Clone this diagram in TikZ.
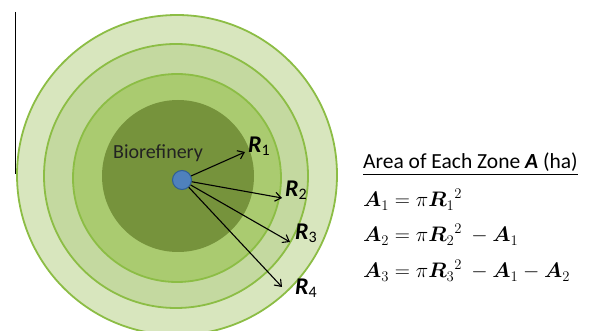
\documentclass[tikz,border=0pt]{standalone}
\usepackage{fix-cm}
\usepackage{amsmath}
\usepackage{bm}
\usepackage{fontspec}
\setmainfont{Carlito}
\definecolor{ringline}{HTML}{8CBD45}
\definecolor{zonefour}{HTML}{D8E6BE}
\definecolor{zonethree}{HTML}{C4D9A0}
\definecolor{zonetwo}{HTML}{AACB70}
\definecolor{zoneone}{HTML}{76933C}
\definecolor{dotblue}{HTML}{4F81BD}
\definecolor{dotedge}{HTML}{2F5E96}
\definecolor{labelgray}{HTML}{222222}
\usetikzlibrary{
  positioning,
  arrows.meta
}
\newcommand{\radlabel}[1]{\textbf{\textit{R}}\raisebox{-0.3ex}{\fontsize{16}{18}\selectfont #1}}

\begin{document}
\begin{tikzpicture}[
  x=1pt, y=-1pt,
  >={Straight Barb[length=6pt,width=9pt]},
  zone/.style={
    circle, draw=ringline, line width=1.8pt, inner sep=0pt
  },
  rlabel/.style={font=\fontsize{24}{26}\selectfont, inner sep=0pt},
  eqline/.style={anchor=base west, inner sep=0pt, font=\fontsize{21}{25}\selectfont}
]
\useasboundingbox (0,0) rectangle (592,331);
\clip (0,0) rectangle (592,331);

\draw[line width=1.4pt] (15.5,12) -- (15.5,174);

\node[zone, fill=zonefour, minimum size=320pt] (z4) at (177,175) {};
\node[zone, fill=zonethree, minimum size=264pt] (z3) at (176,176) {};
\node[zone, fill=zonetwo, minimum size=208pt] (z2) at (177,178) {};
\node[zone, fill=zoneone, draw=none, minimum size=152pt] (z1) at (178,176) {};

\node[font=\fontsize{20}{24}\selectfont, text=labelgray] (plantname) at (158,153) {Biorefinery};
\node[circle, fill=dotblue, draw=dotedge, line width=1pt, minimum size=19pt, inner sep=0pt] (plant) at (182,180) {};

\coordinate (r1end) at (245,152);
\coordinate (r2end) at (282,198);
\coordinate (r3end) at (290,242);
\coordinate (r4end) at (282,287);

\draw[->, line width=1.1pt] (plant) -- (r1end);
\draw[->, line width=1.1pt] (plant) -- (r2end);
\draw[->, line width=1.1pt] (plant) -- (r3end);
\draw[->, line width=1.1pt] (plant) -- (r4end);

\node[rlabel] (r1) at (259,146) {\radlabel{1}};
\node[rlabel] (r2) at (296,190) {\radlabel{2}};
\node[rlabel] (r3) at (306,233) {\radlabel{3}};
\node[rlabel] (r4) at (306,288) {\radlabel{4}};

\node[eqline, font=\fontsize{21.5}{26}\selectfont] (heading) at (363,169) {\underline{Area of Each Zone \textbf{\textit{A}} (ha)}};
\node[eqline] (eq1) at (363,207) {$\bm{A}_1 = \pi {\bm{R}_1}^2$};
\node[eqline] (eq2) at (363,242) {$\bm{A}_2 = \pi {\bm{R}_2}^2\ - \bm{A}_1$};
\node[eqline] (eq3) at (363,278) {$\bm{A}_3 = \pi {\bm{R}_3}^2\ - \bm{A}_1 - \bm{A}_2$};

\end{tikzpicture}
\end{document}
